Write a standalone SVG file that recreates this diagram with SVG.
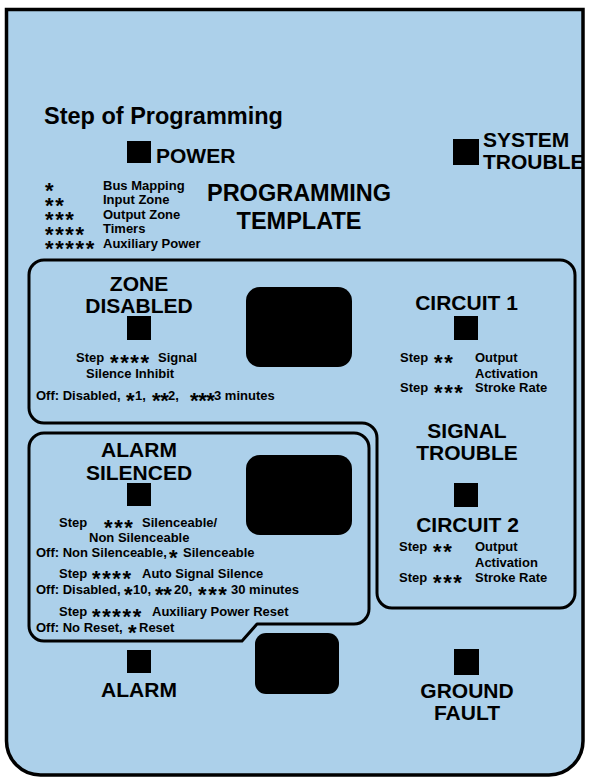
<svg xmlns="http://www.w3.org/2000/svg" width="589" height="778" viewBox="0 0 589 778">
<style>
text{font-family:"Liberation Sans",Arial,Helvetica,sans-serif;font-weight:bold;fill:#000}
.h{font-size:21px}
.big{font-size:23.5px}
.t{font-size:13px}
.s{font-size:22px;letter-spacing:1.6px}
.s1{font-size:22px;letter-spacing:-0.4px}
.c{text-anchor:middle}
.led{fill:#000}
.disp{fill:#000}
.line{fill:none;stroke:#000;stroke-width:3;stroke-linejoin:round}
</style>
<rect width="589" height="778" fill="#fff"/>
<g id="frame">
<path d="M6.5,9.5 H583 V741 A34,34 0 0 1 549,775 H40.5 A34,34 0 0 1 6.5,741 Z" fill="#ACD0EA" stroke="#000" stroke-width="3.5"/>
<path class="line" d="M29,275 A15,15 0 0 1 44,260 H560 A15,15 0 0 1 575,275 V593 A15,15 0 0 1 560,608 H392 A15,15 0 0 1 377,593 V438 A15,15 0 0 0 362,423 H44 A15,15 0 0 1 29,408 Z"/>
<path class="line" d="M29,448 A15,15 0 0 1 44,433 H354 A15,15 0 0 1 369,448 V609 A15,15 0 0 1 354,624 H257 L242,641 H44 A15,15 0 0 1 29,626 Z"/>
</g>
<g id="header">
<text class="big" x="44" y="124">Step of Programming</text>
<text class="big c" x="299" y="201">PROGRAMMING</text>
<text class="big c" x="299" y="229">TEMPLATE</text>
</g>
<g id="power">
<rect class="led" x="127" y="141" width="24" height="22"/>
<text class="h" x="156" y="163">POWER</text>
</g>
<g id="legend">
<text class="t s" x="45" y="198">*</text>
<text class="t s" x="45" y="212.5">**</text>
<text class="t s" x="45" y="227">***</text>
<text class="t s" x="45" y="241.5">****</text>
<text class="t s" x="45" y="256">*****</text>
<text class="t" x="103" y="189.5">Bus Mapping</text>
<text class="t" x="103" y="204">Input Zone</text>
<text class="t" x="103" y="218.5">Output Zone</text>
<text class="t" x="103" y="233">Timers</text>
<text class="t" x="103" y="247.5">Auxiliary Power</text>
</g>
<g id="system-trouble">
<rect class="led" x="453" y="139" width="26" height="26"/>
<text class="h" x="483" y="147">SYSTEM</text>
<text class="h" x="483" y="169">TROUBLE</text>
</g>
<g id="zone-disabled">
<text class="h c" x="139" y="291">ZONE</text>
<text class="h c" x="139" y="313">DISABLED</text>
<rect class="led" x="127" y="316" width="24" height="24"/>
<text class="t" y="362"><tspan x="76">Step</tspan><tspan class="s" x="110" dy="8.3">****</tspan><tspan x="158" dy="-8.3">Signal</tspan></text>
<text class="t" x="86" y="378">Silence Inhibit</text>
<text class="t" y="400"><tspan x="36">Off: Disabled,</tspan><tspan class="s1" x="126" dy="8.3">*</tspan><tspan x="135" dy="-8.3">1,</tspan><tspan class="s1" x="152" dy="8.3">**</tspan><tspan x="168" dy="-8.3">2,</tspan><tspan class="s1" x="190" dy="8.3">***</tspan><tspan x="214" dy="-8.3">3 minutes</tspan></text>
<rect class="disp" x="246" y="287" width="106" height="80" rx="14"/>
</g>
<g id="circuit-1">
<text class="h c" x="466.5" y="310">CIRCUIT 1</text>
<rect class="led" x="454" y="316" width="24" height="24"/>
<text class="t" y="362"><tspan x="400">Step</tspan><tspan class="s" x="434" dy="8.3">**</tspan><tspan x="475" dy="-8.3">Output</tspan></text>
<text class="t" x="475" y="378">Activation</text>
<text class="t" y="392"><tspan x="400">Step</tspan><tspan class="s" x="434" dy="8.3">***</tspan><tspan x="475" dy="-8.3">Stroke Rate</tspan></text>
</g>
<g id="signal-trouble">
<text class="h c" x="467" y="438">SIGNAL</text>
<text class="h c" x="467" y="460">TROUBLE</text>
<rect class="led" x="454" y="483" width="24" height="24"/>
</g>
<g id="circuit-2">
<text class="h c" x="467.5" y="532">CIRCUIT 2</text>
<text class="t" y="551"><tspan x="399">Step</tspan><tspan class="s" x="433" dy="8.3">**</tspan><tspan x="475" dy="-8.3">Output</tspan></text>
<text class="t" x="475" y="567">Activation</text>
<text class="t" y="582"><tspan x="399">Step</tspan><tspan class="s" x="433" dy="8.3">***</tspan><tspan x="475" dy="-8.3">Stroke Rate</tspan></text>
</g>
<g id="alarm-silenced">
<text class="h c" x="139" y="457">ALARM</text>
<text class="h c" x="139" y="480">SILENCED</text>
<rect class="led" x="127" y="483" width="24" height="23"/>
<rect class="disp" x="246" y="455" width="106" height="80" rx="14"/>
<text class="t" y="527"><tspan x="59">Step</tspan><tspan class="s" x="104" dy="8.3">***</tspan><tspan x="142" dy="-8.3">Silenceable/</tspan></text>
<text class="t" x="89" y="542">Non Silenceable</text>
<text class="t" y="557"><tspan x="36">Off: Non Silenceable,</tspan><tspan class="s1" x="169" dy="8.3">*</tspan><tspan x="183" dy="-8.3">Silenceable</tspan></text>
<text class="t" y="578"><tspan x="59">Step</tspan><tspan class="s" x="92" dy="8.3">****</tspan><tspan x="142" dy="-8.3">Auto Signal Silence</tspan></text>
<text class="t" y="594"><tspan x="36">Off: Disabled,</tspan><tspan class="s1" x="124" dy="8.3">*</tspan><tspan x="133" dy="-8.3">10,</tspan><tspan class="s1" x="155" dy="8.3">**</tspan><tspan x="174" dy="-8.3">20,</tspan><tspan class="s" x="198" dy="8.3">***</tspan><tspan x="231" dy="-8.3">30 minutes</tspan></text>
<text class="t" y="616"><tspan x="59">Step</tspan><tspan class="s" x="92" dy="8.3">*****</tspan><tspan x="152" dy="-8.3">Auxiliary Power Reset</tspan></text>
<text class="t" y="632"><tspan x="36">Off: No Reset,</tspan><tspan class="s1" x="128" dy="8.3">*</tspan><tspan x="139" dy="-8.3">Reset</tspan></text>
</g>
<g id="alarm">
<rect class="led" x="127" y="650" width="24" height="23"/>
<text class="h c" x="139" y="697">ALARM</text>
</g>
<g id="center-display">
<rect class="disp" x="255" y="633" width="84" height="61" rx="11"/>
</g>
<g id="ground-fault">
<rect class="led" x="454" y="649" width="25" height="26"/>
<text class="h c" x="467" y="698">GROUND</text>
<text class="h c" x="467" y="720">FAULT</text>
</g>
</svg>
